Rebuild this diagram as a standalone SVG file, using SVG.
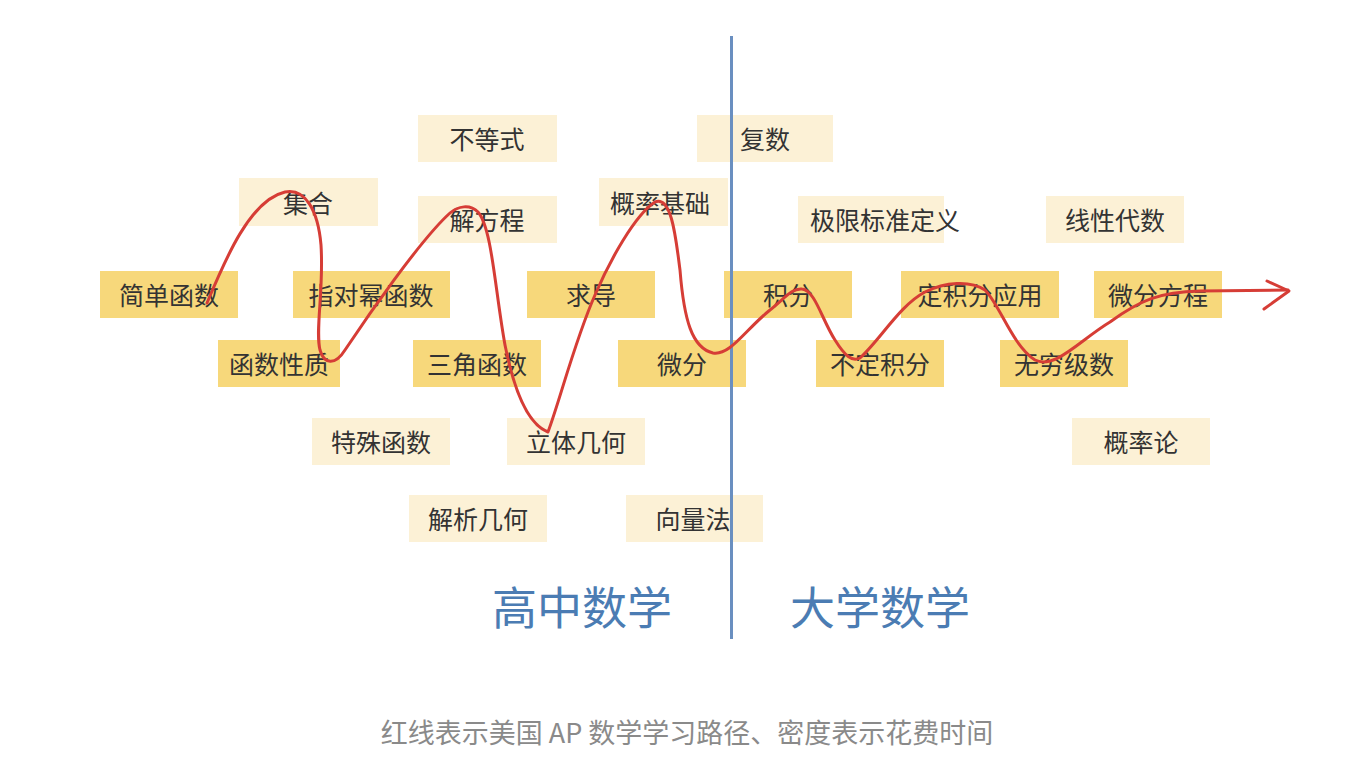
<svg xmlns="http://www.w3.org/2000/svg" width="1358" height="784" viewBox="0 0 1358 784">
<style>
.lt{fill:#fcf1d6}
.dk{fill:#f7d87b}
.lb{font-family:"Noto Sans CJK SC","Noto Sans",sans-serif;font-size:25px;fill:#333333;text-anchor:middle;dominant-baseline:central}
.tt{font-family:"Noto Sans CJK SC","Noto Sans",sans-serif;font-size:45px;fill:#4b7cb3;text-anchor:middle}
.cap{font-family:"Noto Sans CJK SC","Noto Sans",sans-serif;font-size:27px;fill:#8a8a8a;text-anchor:middle}
.red{fill:none;stroke:#d63d36;stroke-width:3;stroke-linecap:round;stroke-linejoin:round}
</style>
<rect width="1358" height="784" fill="#ffffff"/>
<g id="nodes">
<g id="n-budengshi"><rect class="lt" x="418" y="115" width="139" height="47"/><text class="lb" x="487" y="138">不等式</text></g>
<g id="n-fushu"><rect class="lt" x="697" y="115" width="136" height="47"/><text class="lb" x="765" y="138">复数</text></g>
<g id="n-jihe"><rect class="lt" x="239" y="178" width="139" height="48"/><text class="lb" x="308" y="202">集合</text></g>
<g id="n-jiefangcheng"><rect class="lt" x="418" y="196" width="139" height="47"/><text class="lb" x="487" y="219">解方程</text></g>
<g id="n-gailvjichu"><rect class="lt" x="599" y="178" width="129" height="48"/><text class="lb" x="660" y="202">概率基础</text></g>
<g id="n-jixian"><rect class="lt" x="798" y="196" width="146" height="47"/><text class="lb" x="885" y="219">极限标准定义</text></g>
<g id="n-xianxingdaishu"><rect class="lt" x="1046" y="196" width="138" height="47"/><text class="lb" x="1115" y="219">线性代数</text></g>
<g id="n-jiandanhanshu"><rect class="dk" x="100" y="271" width="138" height="47"/><text class="lb" x="169" y="294">简单函数</text></g>
<g id="n-zhiduimi"><rect class="dk" x="293" y="271" width="157" height="47"/><text class="lb" x="371" y="294">指对幂函数</text></g>
<g id="n-qiudao"><rect class="dk" x="527" y="271" width="128" height="47"/><text class="lb" x="591" y="294">求导</text></g>
<g id="n-jifen"><rect class="dk" x="724" y="271" width="128" height="47"/><text class="lb" x="788" y="294">积分</text></g>
<g id="n-dingjifenyingyong"><rect class="dk" x="901" y="271" width="158" height="47"/><text class="lb" x="980" y="294">定积分应用</text></g>
<g id="n-weifenfangcheng"><rect class="dk" x="1094" y="271" width="128" height="47"/><text class="lb" x="1158" y="294">微分方程</text></g>
<g id="n-hanshuxingzhi"><rect class="dk" x="218" y="340" width="122" height="47"/><text class="lb" x="279" y="363">函数性质</text></g>
<g id="n-sanjiaohanshu"><rect class="dk" x="413" y="340" width="128" height="47"/><text class="lb" x="477" y="363">三角函数</text></g>
<g id="n-weifen"><rect class="dk" x="618" y="340" width="128" height="47"/><text class="lb" x="682" y="363">微分</text></g>
<g id="n-budingjifen"><rect class="dk" x="816" y="340" width="128" height="47"/><text class="lb" x="880" y="363">不定积分</text></g>
<g id="n-wuqiongjishu"><rect class="dk" x="1000" y="340" width="128" height="47"/><text class="lb" x="1064" y="363">无穷级数</text></g>
<g id="n-teshuhanshu"><rect class="lt" x="312" y="418" width="138" height="47"/><text class="lb" x="381" y="441">特殊函数</text></g>
<g id="n-litijihe"><rect class="lt" x="507" y="418" width="138" height="47"/><text class="lb" x="576" y="441">立体几何</text></g>
<g id="n-gailvlun"><rect class="lt" x="1072" y="418" width="138" height="47"/><text class="lb" x="1141" y="441">概率论</text></g>
<g id="n-jiexijihe"><rect class="lt" x="409" y="495" width="138" height="47"/><text class="lb" x="478" y="518">解析几何</text></g>
<g id="n-xiangliangfa"><rect class="lt" x="626" y="495" width="137" height="47"/><text class="lb" x="693" y="518">向量法</text></g>
</g>
<g id="divider">
<line x1="731.5" y1="36" x2="731.5" y2="639" stroke="#6a8fc0" stroke-width="3"/>
<text class="tt" x="582" y="625">高中数学</text>
<text class="tt" x="880" y="625">大学数学</text>
</g>
<g id="connectors">
<path class="red" d="M207,303 C225,260 250,200 285,192 C305,188 318,210 321,245 C324,290 315,330 320,350 C324,364 335,366 345,350 C365,320 420,240 450,213 C458,206 470,204 478,212 C492,228 495,290 505,345 C515,395 530,425 548,432 C560,400 575,340 595,295 C610,260 635,215 655,202 C672,195 676,240 680,270 C684,320 692,348 713,353 C730,356 745,330 770,310 C785,298 792,288 802,289 C815,290 822,320 835,340 C845,356 852,362 860,358 C880,340 900,305 925,292 C945,282 970,280 985,290 C1000,305 1012,345 1035,360 C1055,370 1080,340 1110,322 C1140,300 1160,292 1200,291 L1288,290"/>
<polyline class="red" points="1267,281 1289,291 1264,309"/>
</g>
<text class="cap" x="687" y="743">红线表示美国 AP 数学学习路径、密度表示花费时间</text>
</svg>
